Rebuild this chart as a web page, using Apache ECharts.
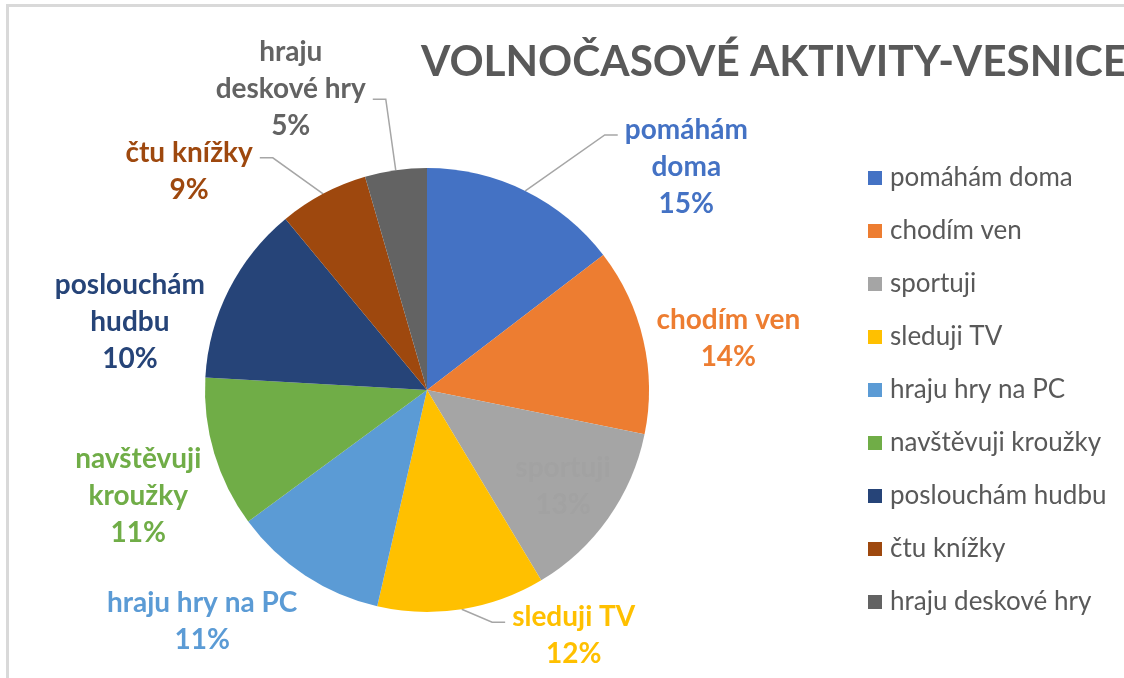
<!DOCTYPE html>
<html>
	<head>
		<meta charset="utf-8">
		<title>Volnočasové aktivity - vesnice</title>
		<script src="https://cdn.jsdelivr.net/npm/echarts@6.0.0/dist/echarts.min.js"></script>
		<style>
			html, body { margin: 0; padding: 0; background: #fff; }
			#frame { position: absolute; left: 6px; top: 4px; width: 1300px; height: 900px;
				border-top: 3px solid #d9d9d9; border-left: 3px solid #d9d9d9; pointer-events: none; }
			#container { position: absolute; left: 0; top: 0; width: 1124px; height: 678px; }
		</style>
	</head>
	<body>
		<div id="container"></div>
		<div id="frame"></div>
		<script type="text/javascript">
			// kategorie a hodnoty (velikost výsečí)
			var categories = ['pomáhám doma', 'chodím ven', 'sportuji', 'sleduji TV', 'hraju hry na PC',
				'navštěvuji kroužky', 'poslouchám hudbu', 'čtu knížky', 'hraju deskové hry'];
			var values = [14.6, 13.6, 13.2, 12.2, 11.3, 11.0, 13.1, 6.5, 4.5];
			// procenta tak, jak jsou vypsaná v popiscích
			var shownPct = ['15%', '14%', '13%', '12%', '11%', '11%', '10%', '9%', '5%'];
			// zalomení textu popisků
			var labelNames = ['pomáhám\ndoma', 'chodím ven', 'sportuji', 'sleduji TV', 'hraju hry na PC',
				'navštěvuji\nkroužky', 'poslouchám\nhudbu', 'čtu knížky', 'hraju\ndeskové hry'];
			var colors = ['#4472C4', '#ED7D31', '#A5A5A5', '#FFC000', '#5B9BD5', '#70AD47', '#264478', '#9E480E', '#636363'];

			var CX = 427, CY = 390, R = 222;
			var FONT = 'Lato, "Open Sans", sans-serif';

			// umístění popisků vůči kotvě na obvodu (jako ručně posunuté v Excelu)
			var place = [
				{ dx: 161, dy: -24, lead: -32 },
				{ dx: 85, dy: -2 },
				{ dx: 0, dy: 0, inside: true },
				{ dx: 112, dy: 26, lead: -13 },
				{ dx: -103, dy: 46 },
				{ dx: -76, dy: 43 },
				{ dx: -99, dy: 32 },
				{ dx: -134, dy: -22, lead: -14 },
				{ dx: -105, dy: -81, lead: 10 }
			];

			var total = 0;
			for (var i = 0; i < values.length; i++) total += values[i];

			function anchor(idx, k) {
				var before = 0;
				for (var j = 0; j < idx; j++) before += values[j];
				var mid = (before + values[idx] / 2) / total * Math.PI * 2;
				return [CX + k * R * Math.sin(mid), CY - k * R * Math.cos(mid)];
			}

			var pieData = categories.map(function(name, i) {
				var p = place[i];
				return {
					name: name,
					value: values[i],
					itemStyle: { color: colors[i] },
					label: {
						position: p.inside ? 'inside' : 'outside',
						color: p.inside ? '#a2a2a2' : colors[i]
					},
					labelLine: { show: p.lead != null }
				};
			});

			var dom = document.getElementById('container');
			var myChart = echarts.init(dom);
			var option = {
				backgroundColor: '#fff',
				animation: false,
				title: {
					text: 'VOLNOČASOVÉ AKTIVITY-VESNICE',
					left: 416,
					top: 36,
					textStyle: {
						fontFamily: FONT,
						fontWeight: 'bold',
						fontSize: 42.3,
						color: '#595959'
					}
				},
				legend: {
					orient: 'vertical',
					left: 863,
					top: 160,
					icon: 'rect',
					itemWidth: 14,
					itemHeight: 14,
					itemGap: 27,
					data: categories,
					textStyle: {
						fontFamily: FONT,
						fontSize: 26,
						lineHeight: 26,
						color: '#595959',
						padding: [0, 0, 0, 3]
					}
				},
				series: [{
					type: 'pie',
					center: [CX, CY],
					radius: R,
					startAngle: 90,
					clockwise: true,
					avoidLabelOverlap: false,
					data: pieData,
					label: {
						fontFamily: FONT,
						fontWeight: 'bold',
						fontSize: 28,
						lineHeight: 37,
						align: 'center',
						formatter: function(p) {
							return labelNames[p.dataIndex] + '\n' + shownPct[p.dataIndex];
						}
					},
					labelLine: {
						length: 20,
						length2: 12,
						lineStyle: { color: '#a6a6a6', width: 1.5 }
					},
					labelLayout: function(params) {
						var i = params.dataIndex;
						var p = place[i];
						var a = anchor(i, p.inside ? 0.75 : 1);
						var x = a[0] + p.dx, y = a[1] + p.dy;
						var out = { x: x, y: y, align: 'center', verticalAlign: 'middle' };
						if (p.lead != null) {
							var side = p.dx > 0 ? -1 : 1;
							var ex = x + side * (params.labelRect.width / 2 + 7);
							var ly = y + p.lead;
							out.labelLinePoints = [a, [ex + side * 13, ly], [ex, ly]];
						}
						return out;
					}
				}]
			};
			myChart.setOption(option, true);
		</script>
	</body>
</html>
